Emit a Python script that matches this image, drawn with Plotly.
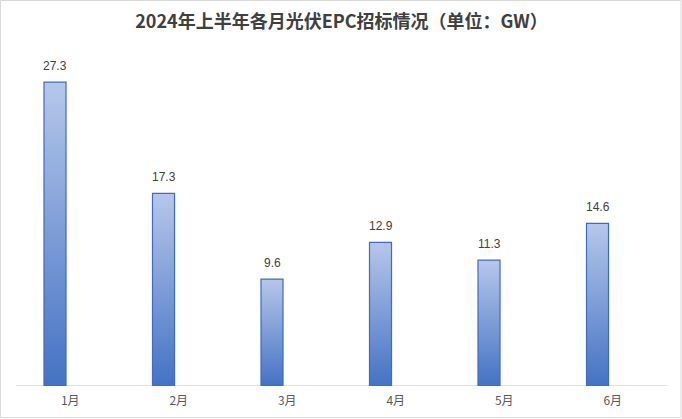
import plotly.graph_objects as go

months = ["1月", "2月", "3月", "4月", "5月", "6月"]
values = [27.3, 17.3, 9.6, 12.9, 11.3, 14.6]
title_text = "2024年上半年各月光伏EPC招标情况（单位：GW）"

BAR_OFFSET = -0.242
BAR_WIDTH = 0.203

fig = go.Figure()

for i, v in enumerate(values):
    x0 = i + BAR_OFFSET
    x1 = x0 + BAR_WIDTH
    fig.add_trace(go.Scatter(
        x=[x0, x1, x1, x0, x0],
        y=[0, 0, v, v, 0],
        mode="lines",
        fill="toself",
        fillgradient=dict(type="vertical",
                          colorscale=[[0, "#4472c4"], [1, "#b6c7ea"]]),
        line=dict(color="#3f6bc4", width=1.2),
        hoverinfo="skip",
        showlegend=False,
    ))
    fig.add_annotation(
        x=i + BAR_OFFSET + BAR_WIDTH / 2, y=v,
        text=f"{v}", showarrow=False,
        yanchor="bottom", yshift=7,
        font=dict(family="Liberation Sans, Noto Sans CJK SC", size=12, color="#404040"),
    )

fig.update_layout(
    width=682, height=419,
    margin=dict(l=16, r=15, t=52, b=33),
    paper_bgcolor="white", plot_bgcolor="white",
    title=dict(text=f"<b>{title_text}</b>", x=0.5, xref="paper", xanchor="center",
               y=1 - 22 / 419, yref="container", yanchor="middle",
               font=dict(family="Noto Sans CJK SC", size=18, color="#404040")),
    xaxis=dict(range=[-0.5, 5.5], tickvals=list(range(len(months))), ticktext=months,
               showgrid=False, zeroline=False, showline=False, ticks="",
               ticklabelstandoff=6,
               tickfont=dict(family="Noto Sans CJK SC", size=12, color="#595959"),
               fixedrange=True),
    yaxis=dict(range=[0, 30], visible=False, showgrid=False, zeroline=False, fixedrange=True),
    shapes=[
        dict(type="line", xref="paper", yref="y", x0=0, x1=1, y0=0, y1=0,
             line=dict(color="#d9d9d9", width=1.5), layer="below"),
        dict(type="rect", xref="paper", yref="paper",
             x0=-15.5 / 651, x1=1 + 14 / 651, y0=-31.5 / 334, y1=1 + 51.5 / 334,
             line=dict(color="#d9d9d9", width=1), layer="below"),
    ],
)

fig.write_html("out.html", config={"displayModeBar": False},
               post_script="document.body.style.margin='0';")
